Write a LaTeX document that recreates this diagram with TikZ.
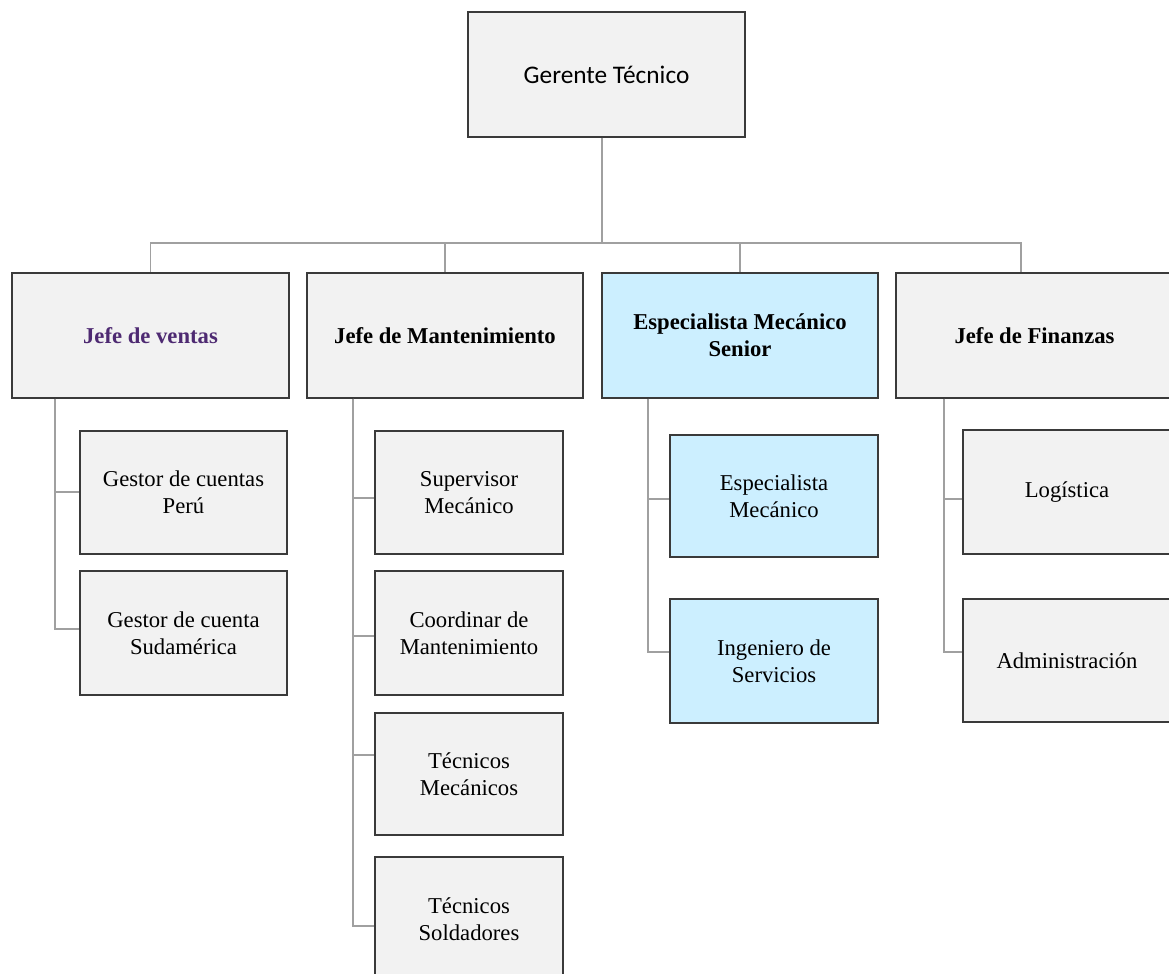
\documentclass[tikz,border=0pt]{standalone}
\usepackage{fontspec}
\setmainfont{Liberation Serif}
\newfontfamily\calib{Carlito}
\definecolor{boxgray}{HTML}{F2F2F2}
\definecolor{boxblue}{HTML}{CCEFFF}
\definecolor{edge}{HTML}{3A3A3A}
\definecolor{linegray}{HTML}{A0A0A0}
\definecolor{purp}{HTML}{4E2A72}
\tikzset{
  box/.style={draw=edge, line width=1.1pt, fill=boxgray, inner sep=2pt, align=center,
    font=\fontsize{17}{20.5}\selectfont},
  bluebox/.style={box, fill=boxblue},
  head/.style={font=\fontsize{17}{20.5}\selectfont\bfseries},
  conn/.style={draw=linegray, line width=1pt},
}
\begin{document}
\begin{tikzpicture}[x=0.75pt,y=-0.75pt]
\useasboundingbox (0,0) rectangle (1169,973);
\clip (0,0) rectangle (1169,973);
\fill[white] (0,0) rectangle (1169,973);

% top
\node[box, minimum width=277*0.75pt, minimum height=125*0.75pt, font=\calib\fontsize{19}{22}\selectfont] (gt) at (606.5,74.5) {Gerente Técnico};

% level 2
\node[box, minimum width=277*0.75pt, minimum height=125*0.75pt, head, text=purp] (ven) at (150.5,335.5) {Jefe de ventas};
\node[box, minimum width=276*0.75pt, minimum height=125*0.75pt, head] (man) at (445,335.5) {Jefe de Mantenimiento};
\node[bluebox, minimum width=276*0.75pt, minimum height=125*0.75pt, head] (esp) at (740,335.5) {Especialista Mecánico\\Senior};
\node[box, minimum width=277*0.75pt, minimum height=125*0.75pt, head] (fin) at (1034.5,335.5) {Jefe de Finanzas};

% ventas children
\node[box, minimum width=207*0.75pt, minimum height=123*0.75pt] (v1) at (183.5,492.5) {Gestor de cuentas\\Perú};
\node[box, minimum width=207*0.75pt, minimum height=124*0.75pt] (v2) at (183.5,633) {Gestor de cuenta\\Sudamérica};

% mantenimiento children
\node[box, minimum width=188*0.75pt, minimum height=123*0.75pt] (m1) at (469,492.5) {Supervisor\\Mecánico};
\node[box, minimum width=188*0.75pt, minimum height=124*0.75pt] (m2) at (469,633) {Coordinar de\\Mantenimiento};
\node[box, minimum width=188*0.75pt, minimum height=122*0.75pt] (m3) at (469,774) {Técnicos\\Mecánicos};
\node[box, minimum width=188*0.75pt, minimum height=124*0.75pt] (m4) at (469,919) {Técnicos\\Soldadores};

% especialista children
\node[bluebox, minimum width=208*0.75pt, minimum height=122*0.75pt] (e1) at (774,496) {Especialista\\Mecánico};
\node[bluebox, minimum width=208*0.75pt, minimum height=124*0.75pt] (e2) at (774,661) {Ingeniero de\\Servicios};

% finanzas children
\node[box, minimum width=208*0.75pt, minimum height=124*0.75pt] (f1) at (1067,492) {Logística};
\node[box, minimum width=208*0.75pt, minimum height=123*0.75pt] (f2) at (1067,660.5) {Administración};

% top connectors
\coordinate (bus) at (602,243);
\draw[conn] (gt.south -| bus) -- (bus);
\draw[conn] (bus) -| (ven.north);
\draw[conn] (bus) -| (man.north);
\draw[conn] (bus) -| (esp.north);
\draw[conn] (bus) -| (fin.north -| 1021,0);

% ventas spine
\draw[conn] (ven.south -| 55,0) |- (v1.west |- 0,492);
\draw[conn] (ven.south -| 55,0) |- (v2.west |- 0,629);

% mantenimiento spine
\draw[conn] (man.south -| 353,0) |- (m1.west |- 0,498);
\draw[conn] (man.south -| 353,0) |- (m2.west |- 0,636);
\draw[conn] (man.south -| 353,0) |- (m3.west |- 0,755);
\draw[conn] (man.south -| 353,0) |- (m4.west |- 0,926);

% especialista spine
\draw[conn] (esp.south -| 648,0) |- (e1.west |- 0,499);
\draw[conn] (esp.south -| 648,0) |- (e2.west |- 0,652);

% finanzas spine
\draw[conn] (fin.south -| 944,0) |- (f1.west |- 0,499);
\draw[conn] (fin.south -| 944,0) |- (f2.west |- 0,652);
\end{tikzpicture}
\end{document}
